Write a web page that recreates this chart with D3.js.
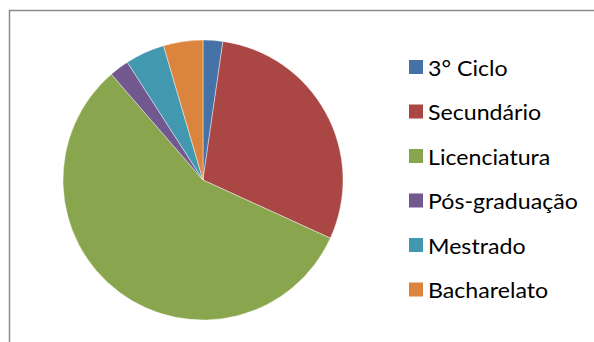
<!DOCTYPE html>
<html>
<head>
<meta charset="utf-8">
<script src="https://cdn.jsdelivr.net/npm/d3@7"></script>
<style>
  html, body { margin: 0; padding: 0; background: #fff; }
  svg { display: block; }
</style>
</head>
<body>
<svg id="chart" width="594" height="342"></svg>
<script>
// Education level counts
const categories = ["3° Ciclo", "Secundário", "Licenciatura", "Pós-graduação", "Mestrado", "Bacharelato"];
const values = [1, 13, 25, 1, 2, 2];
const colors = ["#4572A7", "#AA4643", "#89A54E", "#71588F", "#4198AF", "#DB843D"];

const svg = d3.select("#chart");

// Chart area frame (runs off the right and bottom edges)
svg.append("rect")
  .attr("x", 9.5).attr("y", 10.5)
  .attr("width", 700).attr("height", 400)
  .attr("fill", "#fff")
  .attr("stroke", "#8a8a8a")
  .attr("stroke-width", 1.5);

const data = categories.map((c, i) => ({ name: c, value: values[i], color: colors[i] }));

const pie = d3.pie().value(d => d.value).sort(null);
const radius = 140;
const arc = d3.arc().innerRadius(0).outerRadius(radius);

const g = svg.append("g").attr("transform", "translate(203,180)");
g.selectAll("path")
  .data(pie(data))
  .join("path")
  .attr("d", arc)
  .attr("fill", d => d.data.color)
  .attr("stroke", "#fff")
  .attr("stroke-width", 0.6)
  .attr("stroke-opacity", 0.7);

// Legend
const legendY = d3.scalePoint().domain(categories).range([67, 289.5]);
const items = svg.append("g").selectAll("g")
  .data(data)
  .join("g")
  .attr("transform", d => `translate(409,${legendY(d.name)})`);

items.append("rect")
  .attr("x", 0).attr("y", -7)
  .attr("width", 14).attr("height", 14)
  .attr("fill", d => d.color);

const labels = items.append("text")
  .attr("dominant-baseline", "central")
  .attr("font-family", "Lato, 'Open Sans', sans-serif")
  .attr("font-size", 20.5)
  .attr("fill", "#000")
  .text(d => d.name);

// Condense the labels so the longest one spans the legend column
const longest = d3.max(labels.nodes(), n => n.getComputedTextLength());
const k = 150 / longest;
labels.attr("transform", `translate(19,1) scale(${k.toFixed(4)},1)`);
</script>
</body>
</html>
